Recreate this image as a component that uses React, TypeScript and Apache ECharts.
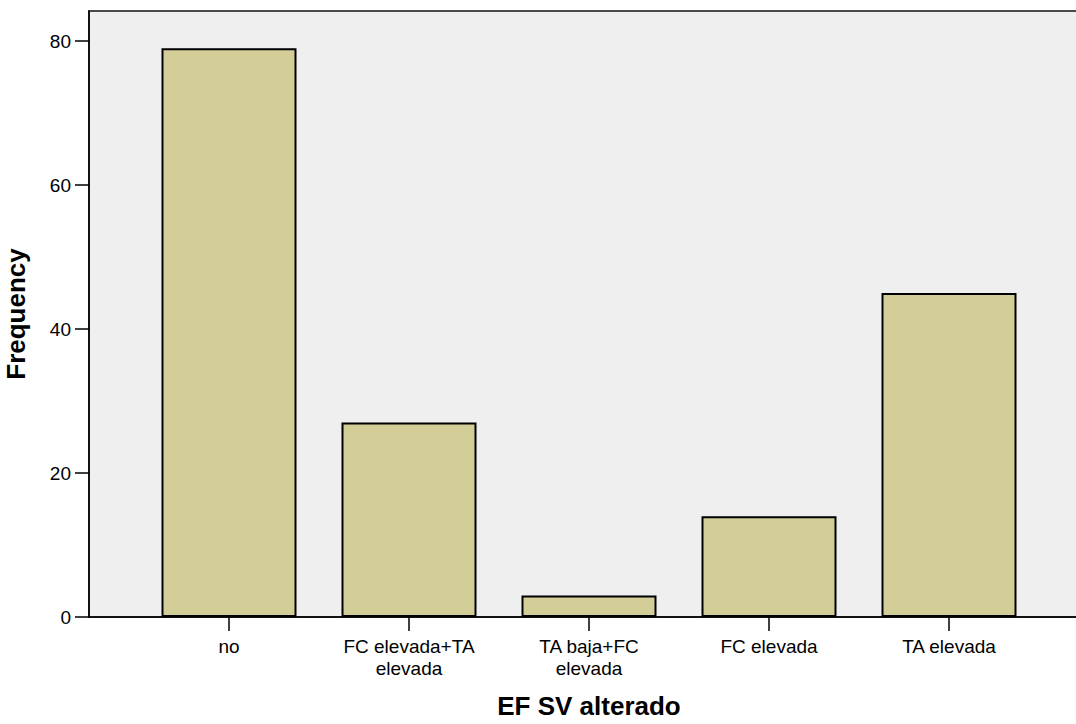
import React, { useEffect, useRef } from "react";
import * as echarts from "echarts";

const categories = ["no", "FC elevada+TA\nelevada", "TA baja+FC\nelevada", "FC elevada", "TA elevada"];
const frequencies = [79, 27, 3, 14, 45];
const yTicks = [0, 20, 40, 60, 80];
const xTicks = [0, 1, 2, 3, 4];

const FONT = "'Liberation Sans', Arial, sans-serif";

export default function App() {
  const ref = useRef<HTMLDivElement>(null);
  useEffect(() => {
    if (!ref.current) return;
    const chart = echarts.init(ref.current, null, { renderer: "svg" });
    chart.setOption({
      animation: false,
      backgroundColor: "#ffffff",
      grid: {
        left: 89,
        top: 11,
        width: 1000,
        bottom: 107,
        outerBoundsMode: "none",
        containLabel: false,
        show: true,
        backgroundColor: "#efefef",
        borderColor: "#4a4a4a",
        borderWidth: 2,
      },
      xAxis: {
        type: "value",
        min: -140 / 180,
        max: 4 + 140 / 180,
        name: "EF SV alterado",
        nameLocation: "middle",
        nameGap: 76,
        nameTextStyle: { fontFamily: FONT, fontSize: 26, fontWeight: "bold", color: "#000" },
        axisLine: { show: true, onZero: false, lineStyle: { color: "#000", width: 1.5 } },
        axisTick: { show: true, customValues: xTicks, length: 14, lineStyle: { color: "#000", width: 1.5 } },
        axisLabel: {
          customValues: xTicks,
          formatter: (v: number) => categories[Math.round(v)] ?? "",
          fontFamily: FONT,
          fontSize: 19,
          lineHeight: 22,
          color: "#000",
          margin: 18,
        },
        splitLine: { show: false },
      },
      yAxis: {
        type: "value",
        min: 0,
        max: 606 / 7.2,
        name: "Frequency",
        nameLocation: "middle",
        nameGap: 60,
        nameTextStyle: { fontFamily: FONT, fontSize: 26, fontWeight: "bold", color: "#000" },
        axisLine: { show: true, onZero: false, lineStyle: { color: "#000", width: 1.5 } },
        axisTick: { show: true, customValues: yTicks, length: 14, lineStyle: { color: "#000", width: 1.5 } },
        axisLabel: {
          customValues: yTicks,
          fontFamily: FONT,
          fontSize: 19,
          color: "#000",
          margin: 18,
        },
        splitLine: { show: false },
      },
      series: [
        {
          type: "bar",
          data: frequencies.map((v, i) => [i, v]),
          barWidth: 135,
          itemStyle: { color: "#d3ce97", borderColor: "#000", borderWidth: 2 },
        },
      ],
    });
    return () => chart.dispose();
  }, []);
  return (
    <div
      ref={ref}
      style={{ position: "absolute", left: 0, top: 0, width: 1076, height: 724 }}
    />
  );
}
